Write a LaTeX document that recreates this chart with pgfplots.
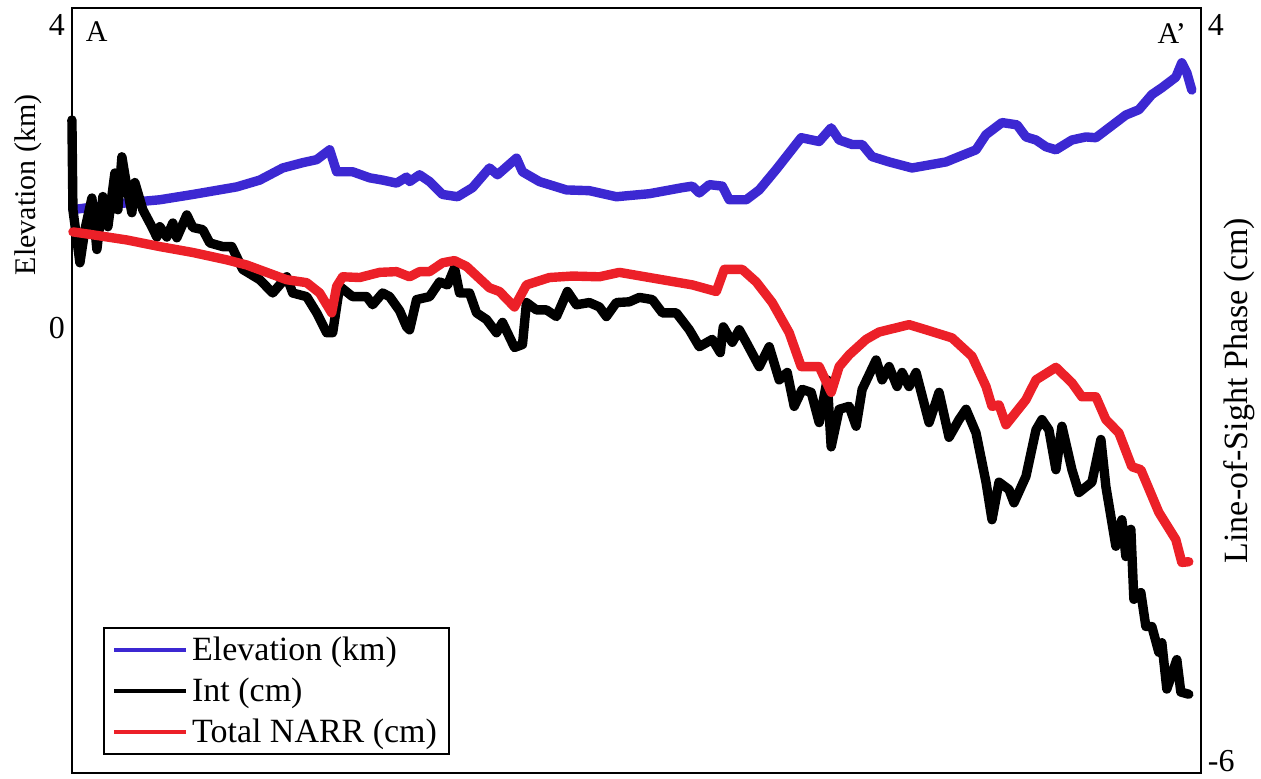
\documentclass[border=0pt]{standalone}
\usepackage{pgfplots}
\pgfplotsset{compat=1.18}
\usepackage{pgfplotstable}
\usepackage{fontspec}
\setmainfont{Liberation Serif}
\definecolor{elevblue}{RGB}{60,40,210}
\definecolor{narrred}{RGB}{236,32,40}

\pgfplotstableread{
x y
1 1.56
55 1.65
88 1.69
121 1.76
165 1.86
188 1.95
211 2.11
231 2.18
245 2.22
258 2.35
265 2.06
281 2.06
298 1.98
311 1.95
325 1.91
335 1.99
338 1.93
348 2.02
358 1.93
371 1.76
386 1.73
401 1.85
418 2.11
426 2.02
445 2.24
451 2.06
468 1.93
495 1.82
518 1.81
545 1.73
578 1.77
611 1.85
621 1.87
628 1.78
638 1.89
651 1.87
658 1.69
675 1.69
688 1.82
705 2.09
730 2.51
748 2.46
760 2.64
768 2.48
781 2.42
791 2.42
801 2.26
818 2.19
841 2.11
875 2.19
888 2.26
905 2.35
915 2.55
931 2.71
946 2.68
955 2.52
965 2.48
975 2.39
985 2.35
1001 2.48
1015 2.52
1025 2.51
1038 2.64
1055 2.81
1068 2.88
1081 3.08
1091 3.17
1105 3.31
1111 3.50
1116 3.37
1121 3.14
}\elevtable

\pgfplotstableread{
x y
0 2.71
1 1.49
8 0.77
13 1.22
20 1.65
25 0.95
31 1.67
36 1.26
43 1.99
46 1.49
50 2.21
55 1.80
60 1.45
63 1.86
71 1.49
80 1.26
85 1.12
88 1.26
95 1.12
101 1.31
105 1.11
115 1.42
121 1.25
131 1.22
138 1.04
151 0.99
160 0.99
171 0.68
188 0.54
201 0.36
215 0.58
221 0.36
235 0.31
245 0.09
255 -0.18
261 -0.18
268 0.45
281 0.31
295 0.31
301 0.20
311 0.36
318 0.31
328 0.12
335 -0.10
338 -0.14
345 0.27
358 0.31
368 0.51
376 0.47
383 0.70
388 0.36
398 0.36
405 0.09
415 0.00
425 -0.18
431 -0.04
443 -0.38
451 -0.34
455 0.23
465 0.13
475 0.13
485 0.04
496 0.38
505 0.20
518 0.23
528 0.17
535 0.04
545 0.23
558 0.24
568 0.30
581 0.27
591 0.09
605 0.09
618 -0.14
628 -0.37
641 -0.27
649 -0.45
652 -0.10
661 -0.31
668 -0.14
675 -0.31
688 -0.64
698 -0.37
708 -0.82
716 -0.72
723 -1.18
731 -0.95
740 -0.99
748 -1.40
756 -0.82
760 -1.73
768 -1.22
778 -1.18
785 -1.45
791 -0.95
805 -0.55
811 -0.82
818 -0.64
826 -0.91
831 -0.72
838 -0.91
845 -0.72
858 -1.40
868 -0.99
878 -1.60
888 -1.36
895 -1.22
905 -1.54
915 -2.21
921 -2.72
928 -2.21
938 -2.31
943 -2.49
955 -2.13
965 -1.50
971 -1.36
978 -1.50
985 -2.04
991 -1.45
1001 -2.04
1008 -2.35
1021 -2.21
1030 -1.63
1035 -2.27
1045 -3.08
1051 -2.72
1055 -3.22
1060 -2.85
1063 -3.80
1070 -3.71
1075 -4.17
1081 -4.17
1088 -4.52
1091 -4.39
1096 -5.02
1106 -4.62
1110 -5.06
1118 -5.09
}\inttable

\pgfplotstableread{
x y
1 1.19
21 1.15
55 1.08
88 0.99
121 0.91
155 0.81
175 0.74
195 0.64
215 0.54
235 0.50
248 0.36
260 0.09
265 0.45
271 0.58
288 0.57
308 0.64
325 0.65
338 0.58
348 0.65
358 0.65
371 0.77
383 0.80
395 0.72
418 0.43
428 0.38
443 0.17
455 0.47
478 0.57
501 0.59
528 0.58
548 0.64
578 0.57
621 0.47
645 0.38
653 0.68
671 0.68
685 0.51
701 0.23
718 -0.18
730 -0.64
748 -0.64
760 -0.99
768 -0.64
778 -0.48
795 -0.27
808 -0.17
838 -0.07
855 -0.14
881 -0.25
901 -0.50
915 -0.91
921 -1.18
928 -1.16
935 -1.43
955 -1.09
965 -0.82
985 -0.65
1001 -0.86
1011 -1.05
1025 -1.05
1035 -1.36
1048 -1.54
1061 -2.00
1070 -2.04
1088 -2.62
1105 -2.99
1111 -3.30
1118 -3.29
}\narrtable

\begin{document}
\begin{tikzpicture}
\pgfplotsset{
  base/.style={
    width=565pt, height=383pt, scale only axis,
    xmin=0, xmax=1130, xtick=\empty,
    major tick length=0pt,
    axis line style={line width=1pt},
    tick label style={font=\fontsize{16}{18}\selectfont},
    /pgf/number format/assume math mode=true,
    clip=false,
  },
  curve/.style={line width=4.7pt, line join=round, line cap=round},
}
\begin{axis}[base, name=main,
  ymin=-5.888, ymax=4.224, ytick={0,4}, ytick pos=left,
  ylabel={Elevation (km)},
  ylabel style={at={(axis description cs:-0.0389,0.769)}, anchor=center,
    font=\fontsize{15}{17}\selectfont},
]
\addplot[curve, elevblue] table[x=x,y=y] {\elevtable};
\node[anchor=west, font=\fontsize{15}{17}\selectfont] at (rel axis cs:0.006,0.969) {A};
\node[anchor=east, font=\fontsize{15}{17}\selectfont] at (rel axis cs:0.993,0.966) {A’};
\end{axis}
\begin{axis}[base,
  ymin=-6.163, ymax=4.231, ytick={-6,4},
  hide x axis, axis y line*=right,
  ylabel={Line-of-Sight Phase (cm)},
  ylabel style={at={(axis description cs:1.0336,0.5)}, anchor=center,
    font=\fontsize{17}{19}\selectfont},
  legend style={at={(axis description cs:0.0274,0.0235)}, anchor=south west,
    draw=black, line width=1pt, font=\fontsize{17}{20}\selectfont,
    inner xsep=4pt, inner ysep=2.5pt, row sep=3.2pt},
  legend cell align=left,
  legend image code/.code={\draw[#1, line width=2.2pt, line cap=butt] (0pt,0pt) -- (36pt,0pt);},
]
\addlegendimage{elevblue}
\addlegendentry{Elevation (km)}
\addplot[curve, black] table[x=x,y=y] {\inttable};
\addlegendentry{Int (cm)}
\addplot[curve, narrred] table[x=x,y=y] {\narrtable};
\addlegendentry{Total NARR (cm)}
\end{axis}
\path (main.south west) ++(-36pt,-1pt) coordinate (bbA);
\path (main.south west) ++(594.5pt,387pt) coordinate (bbB);
\path (bbA) rectangle (bbB);
\end{tikzpicture}
\end{document}
